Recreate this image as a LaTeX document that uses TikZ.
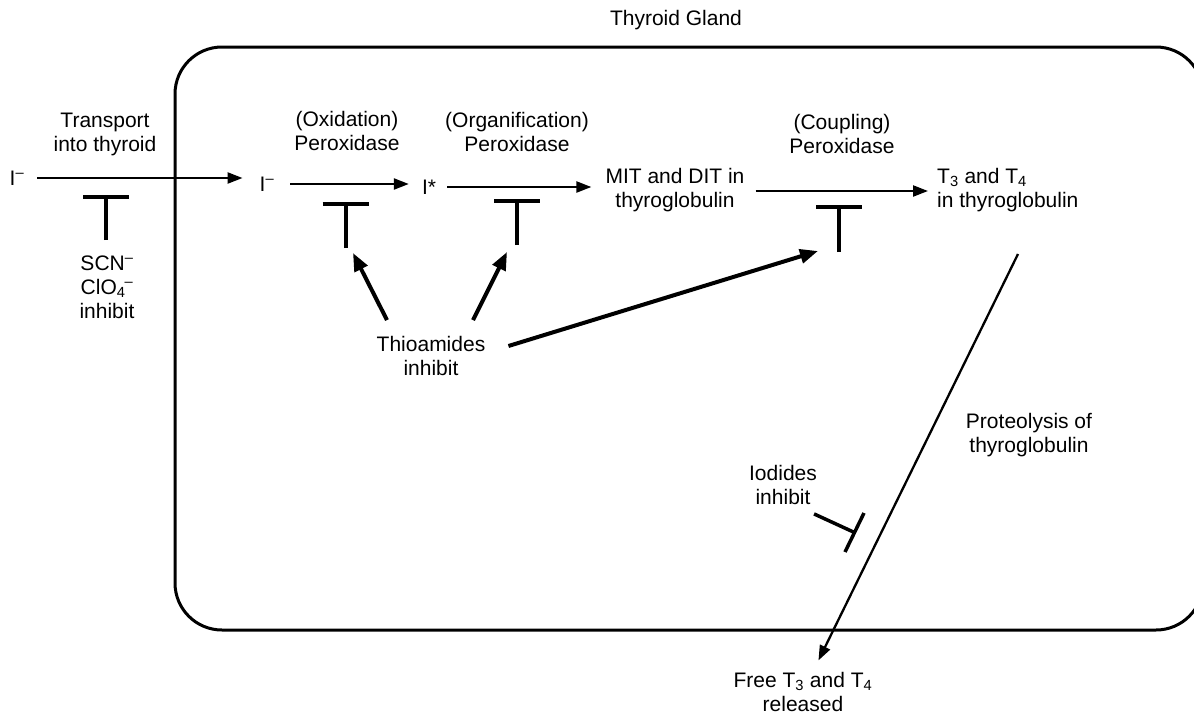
\documentclass[tikz,border=0pt]{standalone}
\usepackage{fontspec}
\setmainfont{Liberation Sans}
\usetikzlibrary{arrows.meta,calc}
\begin{document}
\begin{tikzpicture}[x=1pt,y=-1pt,
  every node/.style={inner sep=0pt, align=center, font=\fontsize{21}{24}\selectfont},
  arr/.style={line width=2.3pt, -{Triangle[length=15pt,width=11pt]}},
  thickarr/.style={line width=4pt, -{Triangle[length=18pt,width=14pt]}},
  inhib/.style={line width=4pt},
  gland/.style={line width=3pt, rounded corners=47pt}]
\useasboundingbox (0,0) rectangle (1194,715);
% gland outline
\draw[gland] (175,47) rectangle (1203,630);
% labels
\node (title) at (676,20) {Thyroid Gland};
\node (transport) at (105,134) {Transport\\into thyroid};
\node (i1) at (17,178) {I\textsuperscript{–}};
\node (scn) at (107,287) {SCN\textsuperscript{–}\\ClO\textsubscript{4}\kern-1pt\textsuperscript{–}\\inhibit};
\node (oxlab) at (347,131) {(Oxidation)\\Peroxidase};
\node (i2) at (267,184) {I\textsuperscript{–}};
\node (istar) at (429,187) {I*};
\node (orglab) at (517,132) {(Organification)\\Peroxidase};
\node (mit) at (675,190) {MIT and DIT in\\thyroglobulin};
\node (couplab) at (842,134) {(Coupling)\\Peroxidase};
\node[anchor=west, align=left] (t34) at (937,190) {T\textsubscript{3} and T\textsubscript{4}\\in thyroglobulin};
\node (thio) at (431,356) {Thioamides\\inhibit};
\node (prolab) at (1029,435) {Proteolysis of\\thyroglobulin};
\node (iod) at (783,485) {Iodides\\inhibit};
\node (free) at (803,692) {Free T\textsubscript{3} and T\textsubscript{4}\\released};
% main pathway
\draw[arr, shorten <=13pt, shorten >=17pt] (i1.east) -- (i2.west |- i1.east);
\draw[arr, shorten <=16pt, shorten >=13pt] (i2.east) -- (istar.west |- i2.east);
\draw[arr, shorten <=11pt, shorten >=14pt] (istar.east) -- (mit.west |- istar.east);
\draw[arr, shorten <=11pt, shorten >=9pt] ([yshift=-1pt]mit.east) -- ([yshift=-1pt]t34.west |- mit.east);
% inhibition T bars
\foreach \n/\x/\yb/\ys in {1/106/197/240, 2/345.5/204/248, 3/517/201/245, 4/839/207/252}{
  \coordinate (bar\n) at (\x,\yb);
  \coordinate (stem\n) at (\x,\ys);
  \draw[inhib] (stem\n) -- (bar\n);
  \draw[inhib] ([xshift=-23pt]bar\n) -- ([xshift=23pt]bar\n);
}
% thioamides
\draw[thickarr] ($(thio.north)+(-44,-16)$) -- ($(stem2)+(7.5,5)$);
\draw[thickarr] ($(thio.north)+(42,-16)$) -- ($(stem3)+(-10,7)$);
\draw[thickarr] ($(thio.east)+(23,-10)$) -- ($(stem4)+(-21,-1)$);
% proteolysis
\coordinate (prot) at (1018,254);
\draw[arr, shorten >=13pt] (prot) -- (free);
% iodides inhibit
\coordinate (iodtail) at ($(iod.south east)+(-3,9)$);
\coordinate (iodbar) at (854.5,532.5);
\draw[inhib, line width=3.5pt] (iodtail) -- (iodbar);
\draw[inhib, line width=3.5pt] ($(iodbar)+(9.5,-19.5)$) -- ($(iodbar)+(-9.5,19.5)$);
\end{tikzpicture}
\end{document}
